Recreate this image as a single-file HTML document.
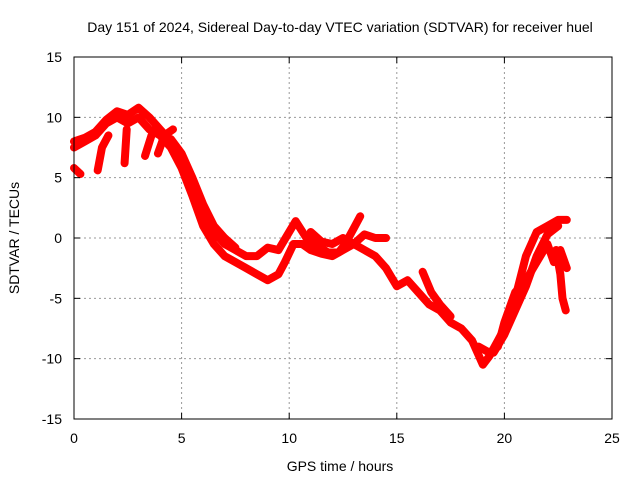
<!DOCTYPE html>
<html><head><meta charset="utf-8"><style>
body{margin:0;background:#fff}
svg{font-family:"Liberation Sans",sans-serif;font-size:14px}
</style></head><body>
<svg width="640" height="480">
<text x="340" y="32" text-anchor="middle">Day 151 of 2024, Sidereal Day-to-day VTEC variation (SDTVAR) for receiver huel</text>
<g id="grid"></g>
<g id="series"></g>
<rect x="74" y="57" width="538" height="362" fill="none" stroke="#000"/>
<g id="ticks"></g>
<text x="340" y="471" text-anchor="middle">GPS time / hours</text>
<text transform="translate(19,238) rotate(-90)" text-anchor="middle">SDTVAR / TECUs</text>
</svg>
<script>
const xTicks=[0,5,10,15,20,25];
const yTicks=[-15,-10,-5,0,5,10,15];
const traceA=[[0,8],[0.5,8.3],[1,8.8],[1.5,9.8],[2,10.5],[2.5,10.2],[3,10.8],[3.5,10],[4,9],[4.5,8],[5,6.5],[5.5,4.5],[6,2],[6.5,0.5],[7,-0.5],[7.5,-1],[8,-1.5],[8.5,-1.5],[9,-0.8],[9.5,-1],[10,0.5],[10.3,1.4],[10.8,0],[11.2,-0.5],[11.8,-1.2],[12.3,-1.2],[12.6,-0.5],[13,0.8],[13.3,1.8]];
const traceB=[[0,7.5],[0.5,8],[1,8.5],[1.5,9.5],[2,10],[2.5,9.5],[3,10],[3.5,9],[4,8.5],[4.5,7.5],[5,5.8],[5.5,3.5],[6,1],[6.5,-0.5],[7,-1.5],[7.5,-2],[8,-2.5],[8.5,-3],[9,-3.5],[9.5,-3],[9.8,-2],[10.2,-0.5],[10.6,-0.5],[11,-1],[11.5,-1.3],[12,-1.5],[12.5,-1],[13,-0.5],[13.5,0.3],[14,0],[14.5,0]];
const traceB2=[[4.5,8.2],[5,7],[5.5,5],[6,2.8],[6.5,1],[7,0],[7.5,-0.8]];
const traceC=[[11,0.5],[11.5,-0.3],[12,-0.5],[12.5,0],[13,-0.5],[13.5,-1],[14,-1.5],[14.5,-2.5],[15,-4],[15.5,-3.5],[16,-4.5],[16.5,-5.5],[17,-6],[17.5,-7],[18,-7.5],[18.5,-8.5],[19,-10.5],[19.3,-9.8],[19.7,-8.5],[20,-7.5],[20.5,-5],[21,-1.5],[21.5,0.5],[22,1],[22.5,1.5],[22.9,1.5]];
const traceC2=[[19.5,-9.5],[20,-8],[20.5,-6],[21,-4],[21.5,-1.5],[22,0.3],[22.5,1]];
const traceD=[[18.8,-9],[19.3,-9.5],[19.7,-9],[20,-7],[20.5,-4.5],[21,-3.5],[21.5,-2],[22,-0.5],[22.3,-2],[22.6,-1],[22.9,-2.5]];
const traceE=[[22.4,-1],[22.6,-3],[22.7,-5],[22.85,-6]];
const traceF=[[16.2,-2.8],[16.6,-4.5],[17,-5.5],[17.5,-6.5]];
const traceG=[[0,5.8],[0.3,5.3]];
const traceH=[[1.1,5.6],[1.3,7.5],[1.6,8.5]];
const traceI=[[2.35,6.2],[2.45,9]];
const traceJ=[[3.9,7],[4.2,8.5],[4.6,9]];
const traceK=[[3.3,6.8],[3.6,8.5]];
const X=v=>74+v*538/25, Y=v=>238-v*362/30;
const NS='http://www.w3.org/2000/svg';
const grid=document.getElementById('grid'),ticks=document.getElementById('ticks'),ser=document.getElementById('series');
function mk(tag,at,parent){const e=document.createElementNS(NS,tag);for(const k in at)e.setAttribute(k,at[k]);parent.appendChild(e);return e;}
xTicks.forEach(t=>{const x=X(t);
 if(t>0&&t<25){const l=mk('line',{x1:x,x2:x,y1:57,y2:419,stroke:'#999','stroke-dasharray':'2,3'},grid);
 
 }
 mk('line',{x1:x,x2:x,y1:419,y2:413,stroke:'#000'},ticks);mk('line',{x1:x,x2:x,y1:57,y2:63,stroke:'#000'},ticks);
 const tx=mk('text',{x:x,y:443,'text-anchor':'middle'},ticks);tx.textContent=t;
 
 });
yTicks.forEach(t=>{const y=Y(t);
 if(t>-15&&t<15){const l=mk('line',{x1:74,x2:612,y1:y,y2:y,stroke:'#999','stroke-dasharray':'2,3'},grid);
 
 }
 mk('line',{x1:74,x2:80,y1:y,y2:y,stroke:'#000'},ticks);mk('line',{x1:612,x2:606,y1:y,y2:y,stroke:'#000'},ticks);
 const tx=mk('text',{x:62,y:y+5,'text-anchor':'end'},ticks);tx.textContent=t;
 
 });
[traceA,traceB,traceB2,traceC,traceC2,traceD,traceE,traceF,traceG,traceH,traceI,traceJ,traceK].forEach((tr,i)=>{
 const p=mk('polyline',{points:tr.map(d=>X(d[0])+','+Y(d[1])).join(' '),fill:'none',stroke:'#f00','stroke-width':8,'stroke-linejoin':'round','stroke-linecap':'round'},ser);
 
 
});
</script>
</body></html>
